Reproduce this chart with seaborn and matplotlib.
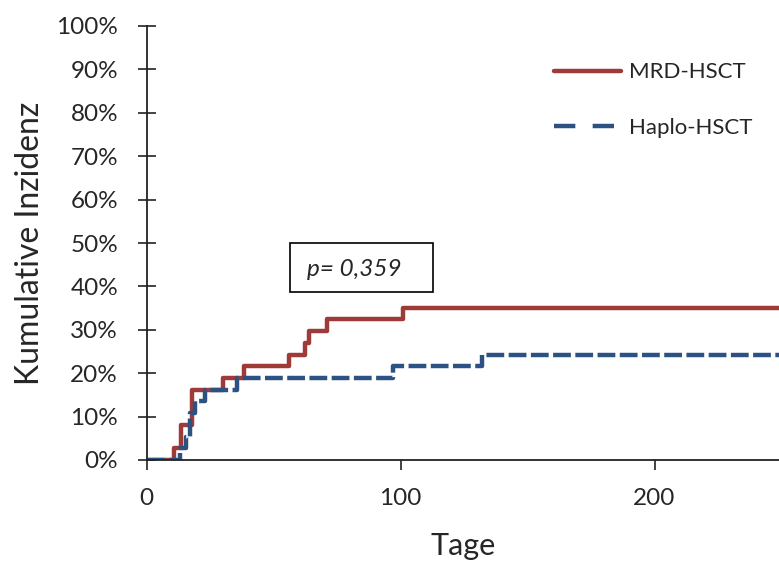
import matplotlib
matplotlib.use("Agg")
import matplotlib.pyplot as plt
import seaborn as sns
import pandas as pd
from matplotlib.ticker import FuncFormatter
from matplotlib.patches import Rectangle

# Data (days, cumulative incidence in %)
mrd_days = [0, 11, 13.5, 18, 30, 38.5, 56, 62.5, 64, 71, 101, 249]
mrd_inc = [0, 2.7, 8.1, 16.2, 18.9, 21.6, 24.3, 27.0, 29.7, 32.4, 35.1, 35.1]
haplo_days = [0, 13, 15.5, 17, 19, 23, 35.5, 97, 132, 249]
haplo_inc = [0, 2.7, 5.4, 10.8, 13.5, 16.2, 18.9, 21.6, 24.3, 24.3]
series_names = ["MRD-HSCT", "Haplo-HSCT"]
y_ticks = [0, 10, 20, 30, 40, 50, 60, 70, 80, 90, 100]
x_ticks = [0, 100, 200]
p_text = "p= 0,359"

sns.set_theme(style="white")
plt.rcParams["font.family"] = ["Lato", "DejaVu Sans"]

df_mrd = pd.DataFrame({"Tage": mrd_days, "Inz": mrd_inc})
df_haplo = pd.DataFrame({"Tage": haplo_days, "Inz": haplo_inc})

fig = plt.figure(figsize=(7.79, 5.63), dpi=100)
ax = fig.add_axes([146.5 / 779, 1 - 460 / 563, 1 - 146.5 / 779, (460 - 26) / 563])

red = "#9E3B38"
blue = "#2C5283"
sns.lineplot(data=df_mrd, x="Tage", y="Inz", ax=ax, color=red, lw=3.2,
             drawstyle="steps-post", estimator=None, sort=False,
             label=series_names[0])
sns.lineplot(data=df_haplo, x="Tage", y="Inz", ax=ax, color=blue, lw=3.2,
             drawstyle="steps-post", estimator=None, sort=False,
             label=series_names[1], dashes=False)
ax.lines[1].set_dashes([4.0, 1.0])

ax.set_xlim(0, 249)
ax.set_ylim(0, 100)
ax.set_xticks(x_ticks)
ax.set_yticks(y_ticks)
ax.yaxis.set_major_formatter(FuncFormatter(lambda v, p: f"{int(v)}%"))
for s in ["top", "right"]:
    ax.spines[s].set_visible(False)
for s in ["left", "bottom"]:
    ax.spines[s].set_color("#222222")
    ax.spines[s].set_linewidth(1.3)
ax.tick_params(axis="y", direction="inout", length=13, width=1.2, color="#222222",
               labelsize=17.5, pad=14, left=True)
ax.tick_params(axis="x", direction="out", length=7, width=1.2, color="#222222",
               labelsize=17.5, pad=13, bottom=True)
ax.set_xlabel("Tage", fontsize=22, labelpad=17)
ax.set_ylabel("Kumulative Inzidenz", fontsize=23, labelpad=8)

# p-value box
ax.add_patch(Rectangle((56.6, 38.7), 56.3, 11.3, fill=False, ec="black", lw=1.2,
                       zorder=5))
ax.text(82.0, 43.8, p_text, fontsize=17.5, style="italic", ha="center", va="center",
        zorder=6)

leg = ax.legend(loc="upper left", bbox_to_anchor=(0.613, 0.962), frameon=False,
                fontsize=16, handlelength=3.0, labelspacing=1.6, handletextpad=0.35)
leg.get_lines()[1].set_dashes([4.8, 3.9])

fig.savefig("out.png", dpi=100)
